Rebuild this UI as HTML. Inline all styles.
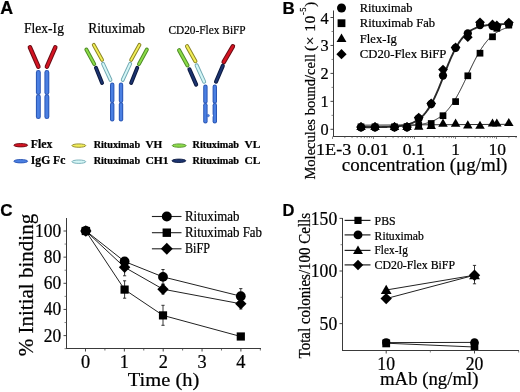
<!DOCTYPE html>
<html><head><meta charset="utf-8"><style>
html,body{margin:0;padding:0;background:#fff;}
body{width:520px;height:392px;overflow:hidden;}
svg{display:block;filter:blur(0.35px);}
text{stroke:#000;stroke-width:0.22px;}
</style></head><body>
<svg width="520" height="392" viewBox="0 0 520 392">
<rect width="520" height="392" fill="#fff"/>
<text x="0.30" y="13.80" font-size="17.8" font-family="'Liberation Sans', sans-serif" font-weight="bold" >A</text>
<text x="24.10" y="33.10" font-size="14.4" font-family="'Liberation Serif', serif" textLength="39.8" lengthAdjust="spacingAndGlyphs" >Flex-Ig</text>
<text x="88.30" y="33.10" font-size="14.6" font-family="'Liberation Serif', serif" textLength="56.8" lengthAdjust="spacingAndGlyphs" >Rituximab</text>
<text x="168.40" y="33.50" font-size="12.2" font-family="'Liberation Serif', serif" textLength="77.3" lengthAdjust="spacingAndGlyphs" >CD20-Flex BiFP</text>
<line x1="29.90" y1="47.26" x2="38.40" y2="66.74" stroke="#6a0c14" stroke-width="4.5" stroke-linecap="round"/>
<line x1="29.90" y1="47.26" x2="38.40" y2="66.74" stroke="#d41422" stroke-width="2.5" stroke-linecap="round"/>
<line x1="55.31" y1="47.27" x2="46.89" y2="66.73" stroke="#6a0c14" stroke-width="4.5" stroke-linecap="round"/>
<line x1="55.31" y1="47.27" x2="46.89" y2="66.73" stroke="#d41422" stroke-width="2.5" stroke-linecap="round"/>
<line x1="38.35" y1="72.55" x2="38.35" y2="92.45" stroke="#2a56b4" stroke-width="4.9" stroke-linecap="round"/>
<line x1="38.35" y1="72.55" x2="38.35" y2="92.45" stroke="#4a7fe2" stroke-width="2.9000000000000004" stroke-linecap="round"/>
<line x1="38.35" y1="96.75" x2="38.35" y2="116.65" stroke="#2a56b4" stroke-width="4.9" stroke-linecap="round"/>
<line x1="38.35" y1="96.75" x2="38.35" y2="116.65" stroke="#4a7fe2" stroke-width="2.9000000000000004" stroke-linecap="round"/>
<line x1="46.85" y1="72.55" x2="46.85" y2="92.45" stroke="#2a56b4" stroke-width="4.9" stroke-linecap="round"/>
<line x1="46.85" y1="72.55" x2="46.85" y2="92.45" stroke="#4a7fe2" stroke-width="2.9000000000000004" stroke-linecap="round"/>
<line x1="46.85" y1="96.75" x2="46.85" y2="116.65" stroke="#2a56b4" stroke-width="4.9" stroke-linecap="round"/>
<line x1="46.85" y1="96.75" x2="46.85" y2="116.65" stroke="#4a7fe2" stroke-width="2.9000000000000004" stroke-linecap="round"/>
<line x1="86.33" y1="49.51" x2="94.27" y2="64.09" stroke="#4e8c26" stroke-width="3.9" stroke-linecap="round"/>
<line x1="86.33" y1="49.51" x2="94.27" y2="64.09" stroke="#8cdc48" stroke-width="1.9" stroke-linecap="round"/>
<line x1="146.87" y1="49.51" x2="138.93" y2="64.09" stroke="#4e8c26" stroke-width="3.9" stroke-linecap="round"/>
<line x1="146.87" y1="49.51" x2="138.93" y2="64.09" stroke="#8cdc48" stroke-width="1.9" stroke-linecap="round"/>
<line x1="93.75" y1="44.91" x2="102.05" y2="59.89" stroke="#8c8624" stroke-width="3.9" stroke-linecap="round"/>
<line x1="93.75" y1="44.91" x2="102.05" y2="59.89" stroke="#f2ee58" stroke-width="1.9" stroke-linecap="round"/>
<line x1="139.45" y1="44.91" x2="131.15" y2="59.89" stroke="#8c8624" stroke-width="3.9" stroke-linecap="round"/>
<line x1="139.45" y1="44.91" x2="131.15" y2="59.89" stroke="#f2ee58" stroke-width="1.9" stroke-linecap="round"/>
<line x1="95.93" y1="67.81" x2="102.07" y2="82.89" stroke="#0c1a40" stroke-width="3.9" stroke-linecap="round"/>
<line x1="95.93" y1="67.81" x2="102.07" y2="82.89" stroke="#1c3470" stroke-width="1.9" stroke-linecap="round"/>
<line x1="137.27" y1="67.81" x2="131.13" y2="82.89" stroke="#0c1a40" stroke-width="3.9" stroke-linecap="round"/>
<line x1="137.27" y1="67.81" x2="131.13" y2="82.89" stroke="#1c3470" stroke-width="1.9" stroke-linecap="round"/>
<line x1="103.02" y1="63.77" x2="110.48" y2="79.93" stroke="#72aab4" stroke-width="3.9" stroke-linecap="round"/>
<line x1="103.02" y1="63.77" x2="110.48" y2="79.93" stroke="#d4f6f6" stroke-width="1.9" stroke-linecap="round"/>
<line x1="130.18" y1="63.77" x2="122.72" y2="79.93" stroke="#72aab4" stroke-width="3.9" stroke-linecap="round"/>
<line x1="130.18" y1="63.77" x2="122.72" y2="79.93" stroke="#d4f6f6" stroke-width="1.9" stroke-linecap="round"/>
<line x1="112.20" y1="84.70" x2="112.20" y2="100.70" stroke="#2a56b4" stroke-width="4.4" stroke-linecap="round"/>
<line x1="112.20" y1="84.70" x2="112.20" y2="100.70" stroke="#4a7fe2" stroke-width="2.4000000000000004" stroke-linecap="round"/>
<line x1="112.20" y1="104.50" x2="112.20" y2="119.20" stroke="#2a56b4" stroke-width="4.4" stroke-linecap="round"/>
<line x1="112.20" y1="104.50" x2="112.20" y2="119.20" stroke="#4a7fe2" stroke-width="2.4000000000000004" stroke-linecap="round"/>
<line x1="121.00" y1="84.70" x2="121.00" y2="100.70" stroke="#2a56b4" stroke-width="4.4" stroke-linecap="round"/>
<line x1="121.00" y1="84.70" x2="121.00" y2="100.70" stroke="#4a7fe2" stroke-width="2.4000000000000004" stroke-linecap="round"/>
<line x1="121.00" y1="104.50" x2="121.00" y2="119.20" stroke="#2a56b4" stroke-width="4.4" stroke-linecap="round"/>
<line x1="121.00" y1="104.50" x2="121.00" y2="119.20" stroke="#4a7fe2" stroke-width="2.4000000000000004" stroke-linecap="round"/>
<line x1="179.09" y1="50.19" x2="187.51" y2="65.41" stroke="#4e8c26" stroke-width="4.1" stroke-linecap="round"/>
<line x1="179.09" y1="50.19" x2="187.51" y2="65.41" stroke="#8cdc48" stroke-width="2.0999999999999996" stroke-linecap="round"/>
<line x1="187.00" y1="46.19" x2="195.40" y2="61.21" stroke="#8c8624" stroke-width="4.1" stroke-linecap="round"/>
<line x1="187.00" y1="46.19" x2="195.40" y2="61.21" stroke="#f2ee58" stroke-width="2.0999999999999996" stroke-linecap="round"/>
<line x1="189.43" y1="69.28" x2="196.17" y2="84.62" stroke="#0c1a40" stroke-width="4.1" stroke-linecap="round"/>
<line x1="189.43" y1="69.28" x2="196.17" y2="84.62" stroke="#1c3470" stroke-width="2.0999999999999996" stroke-linecap="round"/>
<line x1="196.66" y1="65.46" x2="204.14" y2="81.74" stroke="#72aab4" stroke-width="4.1" stroke-linecap="round"/>
<line x1="196.66" y1="65.46" x2="204.14" y2="81.74" stroke="#d4f6f6" stroke-width="2.0999999999999996" stroke-linecap="round"/>
<line x1="232.85" y1="46.29" x2="223.75" y2="62.01" stroke="#6a0c14" stroke-width="4.6" stroke-linecap="round"/>
<line x1="232.85" y1="46.29" x2="223.75" y2="62.01" stroke="#d41422" stroke-width="2.5999999999999996" stroke-linecap="round"/>
<line x1="222.79" y1="65.88" x2="216.01" y2="81.72" stroke="#0c1a40" stroke-width="4.1" stroke-linecap="round"/>
<line x1="222.79" y1="65.88" x2="216.01" y2="81.72" stroke="#1c3470" stroke-width="2.0999999999999996" stroke-linecap="round"/>
<line x1="205.40" y1="86.80" x2="205.40" y2="101.40" stroke="#2a56b4" stroke-width="4.4" stroke-linecap="round"/>
<line x1="205.40" y1="86.80" x2="205.40" y2="101.40" stroke="#4a7fe2" stroke-width="2.4000000000000004" stroke-linecap="round"/>
<line x1="205.40" y1="105.20" x2="205.40" y2="121.30" stroke="#2a56b4" stroke-width="4.4" stroke-linecap="round"/>
<line x1="205.40" y1="105.20" x2="205.40" y2="121.30" stroke="#4a7fe2" stroke-width="2.4000000000000004" stroke-linecap="round"/>
<line x1="214.80" y1="86.80" x2="214.80" y2="101.40" stroke="#2a56b4" stroke-width="4.4" stroke-linecap="round"/>
<line x1="214.80" y1="86.80" x2="214.80" y2="101.40" stroke="#4a7fe2" stroke-width="2.4000000000000004" stroke-linecap="round"/>
<line x1="214.80" y1="105.20" x2="214.80" y2="121.30" stroke="#2a56b4" stroke-width="4.4" stroke-linecap="round"/>
<line x1="214.80" y1="105.20" x2="214.80" y2="121.30" stroke="#4a7fe2" stroke-width="2.4000000000000004" stroke-linecap="round"/>
<circle cx="208.2" cy="115.6" r="1.2" fill="#4a7fe2" stroke="#2a56b4" stroke-width="0.5"/>
<circle cx="212.0" cy="115.6" r="1.1" fill="#fff"/>
<ellipse cx="20.75" cy="145.2" rx="6.9" ry="1.7" fill="#d41422" stroke="#6a0c14" stroke-width="0.9"/>
<ellipse cx="20.75" cy="161.2" rx="6.9" ry="1.7" fill="#4a7fe2" stroke="#2a56b4" stroke-width="0.9"/>
<ellipse cx="78.85" cy="145.6" rx="6.9" ry="1.7" fill="#f2ee58" stroke="#8c8624" stroke-width="0.9"/>
<ellipse cx="78.85" cy="161.7" rx="6.9" ry="1.7" fill="#d4f6f6" stroke="#72aab4" stroke-width="0.9"/>
<ellipse cx="179.2" cy="145.6" rx="6.9" ry="1.7" fill="#8cdc48" stroke="#4e8c26" stroke-width="0.9"/>
<ellipse cx="178.9" cy="160.8" rx="6.9" ry="1.7" fill="#1c3470" stroke="#0c1a40" stroke-width="0.9"/>
<text x="30.80" y="148.30" font-size="11.6" font-family="'Liberation Serif', serif" font-weight="bold" textLength="21.6" lengthAdjust="spacingAndGlyphs" >Flex</text>
<text x="30.80" y="164.40" font-size="11.6" font-family="'Liberation Serif', serif" font-weight="bold" textLength="34.6" lengthAdjust="spacingAndGlyphs" >IgG Fc</text>
<text x="93.70" y="148.10" font-size="9.6" font-family="'Liberation Serif', serif" font-weight="bold" textLength="46.4" lengthAdjust="spacingAndGlyphs" >Rituximab</text>
<text x="93.70" y="163.60" font-size="9.6" font-family="'Liberation Serif', serif" font-weight="bold" textLength="46.4" lengthAdjust="spacingAndGlyphs" >Rituximab</text>
<text x="192.60" y="148.10" font-size="9.6" font-family="'Liberation Serif', serif" font-weight="bold" textLength="46.4" lengthAdjust="spacingAndGlyphs" >Rituximab</text>
<text x="192.60" y="163.60" font-size="9.6" font-family="'Liberation Serif', serif" font-weight="bold" textLength="46.4" lengthAdjust="spacingAndGlyphs" >Rituximab</text>
<text x="145.40" y="148.10" font-size="11.2" font-family="'Liberation Serif', serif" font-weight="bold" textLength="16.8" lengthAdjust="spacingAndGlyphs" >VH</text>
<text x="145.40" y="163.60" font-size="11.2" font-family="'Liberation Serif', serif" font-weight="bold" textLength="23.2" lengthAdjust="spacingAndGlyphs" >CH1</text>
<text x="244.50" y="148.10" font-size="11.2" font-family="'Liberation Serif', serif" font-weight="bold" textLength="15.8" lengthAdjust="spacingAndGlyphs" >VL</text>
<text x="244.50" y="163.60" font-size="11.2" font-family="'Liberation Serif', serif" font-weight="bold" textLength="15.8" lengthAdjust="spacingAndGlyphs" >CL</text>
<text x="282.60" y="13.50" font-size="17" font-family="'Liberation Sans', sans-serif" font-weight="bold" >B</text>
<line x1="333.50" y1="10.50" x2="333.50" y2="137.00" stroke="#3a3a3a" stroke-width="1.0" />
<line x1="333.00" y1="136.50" x2="517.00" y2="136.50" stroke="#3a3a3a" stroke-width="1.0" />
<line x1="330.50" y1="129.30" x2="333.50" y2="129.30" stroke="#333" stroke-width="0.9" />
<text x="328.60" y="135.30" font-size="16.3" font-family="'Liberation Serif', serif" text-anchor="end" >0</text>
<line x1="330.50" y1="101.35" x2="333.50" y2="101.35" stroke="#333" stroke-width="0.9" />
<text x="328.60" y="107.35" font-size="16.3" font-family="'Liberation Serif', serif" text-anchor="end" >1</text>
<line x1="330.50" y1="73.40" x2="333.50" y2="73.40" stroke="#333" stroke-width="0.9" />
<text x="328.60" y="79.40" font-size="16.3" font-family="'Liberation Serif', serif" text-anchor="end" >2</text>
<line x1="330.50" y1="45.45" x2="333.50" y2="45.45" stroke="#333" stroke-width="0.9" />
<text x="328.60" y="51.45" font-size="16.3" font-family="'Liberation Serif', serif" text-anchor="end" >3</text>
<line x1="330.50" y1="17.50" x2="333.50" y2="17.50" stroke="#333" stroke-width="0.9" />
<text x="328.60" y="23.50" font-size="16.3" font-family="'Liberation Serif', serif" text-anchor="end" >4</text>
<line x1="331.50" y1="115.33" x2="333.50" y2="115.33" stroke="#555" stroke-width="0.7" />
<line x1="331.50" y1="87.38" x2="333.50" y2="87.38" stroke="#555" stroke-width="0.7" />
<line x1="331.50" y1="59.43" x2="333.50" y2="59.43" stroke="#555" stroke-width="0.7" />
<line x1="331.50" y1="31.48" x2="333.50" y2="31.48" stroke="#555" stroke-width="0.7" />
<line x1="332.50" y1="136.50" x2="332.50" y2="139.00" stroke="#555" stroke-width="0.7" />
<line x1="344.84" y1="136.50" x2="344.84" y2="138.10" stroke="#555" stroke-width="0.7" />
<line x1="352.06" y1="136.50" x2="352.06" y2="138.10" stroke="#555" stroke-width="0.7" />
<line x1="357.18" y1="136.50" x2="357.18" y2="138.10" stroke="#555" stroke-width="0.7" />
<line x1="361.16" y1="136.50" x2="361.16" y2="138.10" stroke="#555" stroke-width="0.7" />
<line x1="364.40" y1="136.50" x2="364.40" y2="138.10" stroke="#555" stroke-width="0.7" />
<line x1="367.15" y1="136.50" x2="367.15" y2="138.10" stroke="#555" stroke-width="0.7" />
<line x1="369.53" y1="136.50" x2="369.53" y2="138.10" stroke="#555" stroke-width="0.7" />
<line x1="371.62" y1="136.50" x2="371.62" y2="138.10" stroke="#555" stroke-width="0.7" />
<line x1="373.50" y1="136.50" x2="373.50" y2="139.00" stroke="#555" stroke-width="0.7" />
<line x1="385.84" y1="136.50" x2="385.84" y2="138.10" stroke="#555" stroke-width="0.7" />
<line x1="393.06" y1="136.50" x2="393.06" y2="138.10" stroke="#555" stroke-width="0.7" />
<line x1="398.18" y1="136.50" x2="398.18" y2="138.10" stroke="#555" stroke-width="0.7" />
<line x1="402.16" y1="136.50" x2="402.16" y2="138.10" stroke="#555" stroke-width="0.7" />
<line x1="405.40" y1="136.50" x2="405.40" y2="138.10" stroke="#555" stroke-width="0.7" />
<line x1="408.15" y1="136.50" x2="408.15" y2="138.10" stroke="#555" stroke-width="0.7" />
<line x1="410.53" y1="136.50" x2="410.53" y2="138.10" stroke="#555" stroke-width="0.7" />
<line x1="412.62" y1="136.50" x2="412.62" y2="138.10" stroke="#555" stroke-width="0.7" />
<line x1="414.50" y1="136.50" x2="414.50" y2="139.00" stroke="#555" stroke-width="0.7" />
<line x1="426.84" y1="136.50" x2="426.84" y2="138.10" stroke="#555" stroke-width="0.7" />
<line x1="434.06" y1="136.50" x2="434.06" y2="138.10" stroke="#555" stroke-width="0.7" />
<line x1="439.18" y1="136.50" x2="439.18" y2="138.10" stroke="#555" stroke-width="0.7" />
<line x1="443.16" y1="136.50" x2="443.16" y2="138.10" stroke="#555" stroke-width="0.7" />
<line x1="446.40" y1="136.50" x2="446.40" y2="138.10" stroke="#555" stroke-width="0.7" />
<line x1="449.15" y1="136.50" x2="449.15" y2="138.10" stroke="#555" stroke-width="0.7" />
<line x1="451.53" y1="136.50" x2="451.53" y2="138.10" stroke="#555" stroke-width="0.7" />
<line x1="453.62" y1="136.50" x2="453.62" y2="138.10" stroke="#555" stroke-width="0.7" />
<line x1="455.50" y1="136.50" x2="455.50" y2="139.00" stroke="#555" stroke-width="0.7" />
<line x1="467.84" y1="136.50" x2="467.84" y2="138.10" stroke="#555" stroke-width="0.7" />
<line x1="475.06" y1="136.50" x2="475.06" y2="138.10" stroke="#555" stroke-width="0.7" />
<line x1="480.18" y1="136.50" x2="480.18" y2="138.10" stroke="#555" stroke-width="0.7" />
<line x1="484.16" y1="136.50" x2="484.16" y2="138.10" stroke="#555" stroke-width="0.7" />
<line x1="487.40" y1="136.50" x2="487.40" y2="138.10" stroke="#555" stroke-width="0.7" />
<line x1="490.15" y1="136.50" x2="490.15" y2="138.10" stroke="#555" stroke-width="0.7" />
<line x1="492.53" y1="136.50" x2="492.53" y2="138.10" stroke="#555" stroke-width="0.7" />
<line x1="494.62" y1="136.50" x2="494.62" y2="138.10" stroke="#555" stroke-width="0.7" />
<line x1="496.50" y1="136.50" x2="496.50" y2="139.00" stroke="#555" stroke-width="0.7" />
<line x1="508.84" y1="136.50" x2="508.84" y2="138.10" stroke="#555" stroke-width="0.7" />
<line x1="516.06" y1="136.50" x2="516.06" y2="138.10" stroke="#555" stroke-width="0.7" />
<text x="333.70" y="155.20" font-size="17.5" font-family="'Liberation Serif', serif" text-anchor="middle" textLength="35.3" lengthAdjust="spacingAndGlyphs" >1E-3</text>
<text x="373.10" y="155.20" font-size="17.5" font-family="'Liberation Serif', serif" text-anchor="middle" textLength="31.6" lengthAdjust="spacingAndGlyphs" >0.01</text>
<text x="413.75" y="155.20" font-size="17.5" font-family="'Liberation Serif', serif" text-anchor="middle" >0.1</text>
<text x="455.50" y="155.20" font-size="17.5" font-family="'Liberation Serif', serif" text-anchor="middle" >1</text>
<text x="497.20" y="155.20" font-size="17.5" font-family="'Liberation Serif', serif" text-anchor="middle" >10</text>
<text x="341.80" y="170.70" font-size="18.3" font-family="'Liberation Serif', serif" textLength="165.6" lengthAdjust="spacingAndGlyphs" >concentration (&#956;g/ml)</text>
<text x="0" y="0" font-size="15.5" font-family="'Liberation Serif', serif" transform="translate(315.2 179.6) rotate(-90)" textLength="125.7" lengthAdjust="spacingAndGlyphs">Molecules bound/cell</text>
<text x="0" y="0" font-size="15.5" font-family="'Liberation Serif', serif" transform="translate(315.2 51.0) rotate(-90)" textLength="49.3">(&#215; 10<tspan dy="-8.8" font-size="8.6">-5</tspan><tspan dy="8.8">)</tspan></text>
<polyline points="361.00,126.48 361.50,126.48 362.00,126.48 362.50,126.48 363.00,126.48 363.50,126.48 364.00,126.48 364.50,126.48 365.00,126.48 365.50,126.48 366.00,126.48 366.50,126.48 367.00,126.48 367.50,126.47 368.00,126.47 368.50,126.47 369.00,126.47 369.50,126.47 370.00,126.47 370.50,126.47 371.00,126.47 371.50,126.46 372.00,126.46 372.50,126.46 373.00,126.46 373.50,126.46 374.00,126.46 374.50,126.45 375.00,126.45 375.50,126.45 376.00,126.45 376.50,126.45 377.00,126.44 377.50,126.44 378.00,126.44 378.50,126.44 379.00,126.43 379.50,126.43 380.00,126.43 380.50,126.42 381.00,126.42 381.50,126.42 382.00,126.41 382.50,126.41 383.00,126.41 383.50,126.40 384.00,126.40 384.50,126.39 385.00,126.39 385.50,126.39 386.00,126.38 386.50,126.38 387.00,126.37 387.50,126.37 388.00,126.36 388.50,126.35 389.00,126.35 389.50,126.34 390.00,126.33 390.50,126.33 391.00,126.32 391.50,126.31 392.00,126.30 392.50,126.30 393.00,126.29 393.50,126.28 394.00,126.27 394.50,126.26 395.00,126.25 395.50,126.24 396.00,126.23 396.50,126.22 397.00,126.20 397.50,126.19 398.00,126.18 398.50,126.16 399.00,126.15 399.50,126.14 400.00,126.12 400.50,126.10 401.00,126.09 401.50,126.07 402.00,126.05 402.50,126.03 403.00,126.01 403.50,125.99 404.00,125.97 404.50,125.95 405.00,125.93 405.50,125.90 406.00,125.88 406.50,125.85 407.00,125.82 407.50,125.80 408.00,125.77 408.50,125.74 409.00,125.70 409.50,125.67 410.00,125.63 410.50,125.60 411.00,125.56 411.50,125.52 412.00,125.48 412.50,125.44 413.00,125.39 413.50,125.35 414.00,125.30 414.50,125.25 415.00,125.20 415.50,125.14 416.00,125.09 416.50,125.03 417.00,124.96 417.50,124.90 418.00,124.83 418.50,124.76 419.00,124.69 419.50,124.62 420.00,124.54 420.50,124.46 421.00,124.37 421.50,124.29 422.00,124.19 422.50,124.10 423.00,124.00 423.50,123.90 424.00,123.79 424.50,123.68 425.00,123.56 425.50,123.44 426.00,123.32 426.50,123.19 427.00,123.05 427.50,122.91 428.00,122.76 428.50,122.61 429.00,122.45 429.50,122.29 430.00,122.12 430.50,121.94 431.00,121.76 431.50,121.56 432.00,121.37 432.50,121.16 433.00,120.95 433.50,120.73 434.00,120.50 434.50,120.26 435.00,120.01 435.50,119.75 436.00,119.49 436.50,119.21 437.00,118.93 437.50,118.63 438.00,118.32 438.50,118.01 439.00,117.68 439.50,117.34 440.00,116.98 440.50,116.62 441.00,116.24 441.50,115.86 442.00,115.45 442.50,115.04 443.00,114.61 443.50,114.17 444.00,113.71 444.50,113.24 445.00,112.75 445.50,112.25 446.00,111.74 446.50,111.21 447.00,110.66 447.50,110.09 448.00,109.52 448.50,108.92 449.00,108.31 449.50,107.68 450.00,107.03 450.50,106.37 451.00,105.69 451.50,105.00 452.00,104.29 452.50,103.56 453.00,102.81 453.50,102.05 454.00,101.27 454.50,100.47 455.00,99.66 455.50,98.83 456.00,97.98 456.50,97.12 457.00,96.24 457.50,95.35 458.00,94.45 458.50,93.53 459.00,92.59 459.50,91.65 460.00,90.69 460.50,89.72 461.00,88.73 461.50,87.74 462.00,86.73 462.50,85.72 463.00,84.70 463.50,83.67 464.00,82.63 464.50,81.59 465.00,80.54 465.50,79.49 466.00,78.43 466.50,77.37 467.00,76.31 467.50,75.25 468.00,74.19 468.50,73.13 469.00,72.07 469.50,71.01 470.00,69.96 470.50,68.91 471.00,67.87 471.50,66.83 472.00,65.80 472.50,64.78 473.00,63.77 473.50,62.76 474.00,61.77 474.50,60.78 475.00,59.81 475.50,58.85 476.00,57.91 476.50,56.97 477.00,56.05 477.50,55.15 478.00,54.26 478.50,53.38 479.00,52.52 479.50,51.67 480.00,50.84 480.50,50.03 481.00,49.23 481.50,48.45 482.00,47.69 482.50,46.94 483.00,46.21 483.50,45.50 484.00,44.81 484.50,44.13 485.00,43.47 485.50,42.82 486.00,42.19 486.50,41.58 487.00,40.98 487.50,40.41 488.00,39.84 488.50,39.29 489.00,38.76 489.50,38.25 490.00,37.75 490.50,37.26 491.00,36.79 491.50,36.33 492.00,35.89 492.50,35.46 493.00,35.05 493.50,34.64 494.00,34.26 494.50,33.88 495.00,33.52 495.50,33.16 496.00,32.82 496.50,32.49 497.00,32.18 497.50,31.87 498.00,31.57 498.50,31.29 499.00,31.01 499.50,30.75 500.00,30.49 500.50,30.24 501.00,30.00 501.50,29.77 502.00,29.55 502.50,29.34 503.00,29.13 503.50,28.94 504.00,28.74 504.50,28.56 505.00,28.38 505.50,28.21 506.00,28.05 506.50,27.89 507.00,27.74 507.50,27.59 508.00,27.45 508.50,27.31 509.00,27.18" fill="none" stroke="#222" stroke-width="1.0" stroke-linejoin="round"/>
<polyline points="361.00,125.20 509.00,124.30" fill="none" stroke="#333" stroke-width="1.0" stroke-linejoin="round"/>
<polyline points="361.00,127.27 361.50,127.27 362.00,127.27 362.50,127.27 363.00,127.27 363.50,127.26 364.00,127.26 364.50,127.26 365.00,127.26 365.50,127.26 366.00,127.25 366.50,127.25 367.00,127.25 367.50,127.25 368.00,127.24 368.50,127.24 369.00,127.24 369.50,127.23 370.00,127.23 370.50,127.23 371.00,127.22 371.50,127.22 372.00,127.22 372.50,127.21 373.00,127.21 373.50,127.20 374.00,127.20 374.50,127.19 375.00,127.19 375.50,127.18 376.00,127.17 376.50,127.17 377.00,127.16 377.50,127.15 378.00,127.15 378.50,127.14 379.00,127.13 379.50,127.12 380.00,127.11 380.50,127.10 381.00,127.09 381.50,127.08 382.00,127.07 382.50,127.06 383.00,127.05 383.50,127.04 384.00,127.02 384.50,127.01 385.00,126.99 385.50,126.98 386.00,126.96 386.50,126.95 387.00,126.93 387.50,126.91 388.00,126.89 388.50,126.87 389.00,126.85 389.50,126.82 390.00,126.80 390.50,126.77 391.00,126.75 391.50,126.72 392.00,126.69 392.50,126.66 393.00,126.63 393.50,126.59 394.00,126.56 394.50,126.52 395.00,126.48 395.50,126.44 396.00,126.40 396.50,126.35 397.00,126.30 397.50,126.25 398.00,126.20 398.50,126.15 399.00,126.09 399.50,126.03 400.00,125.96 400.50,125.90 401.00,125.83 401.50,125.75 402.00,125.68 402.50,125.59 403.00,125.51 403.50,125.42 404.00,125.33 404.50,125.23 405.00,125.13 405.50,125.02 406.00,124.90 406.50,124.79 407.00,124.66 407.50,124.53 408.00,124.39 408.50,124.25 409.00,124.10 409.50,123.94 410.00,123.78 410.50,123.61 411.00,123.43 411.50,123.24 412.00,123.04 412.50,122.83 413.00,122.62 413.50,122.39 414.00,122.15 414.50,121.91 415.00,121.65 415.50,121.38 416.00,121.10 416.50,120.80 417.00,120.49 417.50,120.17 418.00,119.84 418.50,119.48 419.00,119.12 419.50,118.74 420.00,118.34 420.50,117.93 421.00,117.50 421.50,117.05 422.00,116.58 422.50,116.10 423.00,115.59 423.50,115.07 424.00,114.53 424.50,113.96 425.00,113.38 425.50,112.77 426.00,112.14 426.50,111.49 427.00,110.81 427.50,110.11 428.00,109.39 428.50,108.65 429.00,107.88 429.50,107.09 430.00,106.27 430.50,105.43 431.00,104.56 431.50,103.67 432.00,102.75 432.50,101.82 433.00,100.85 433.50,99.87 434.00,98.86 434.50,97.82 435.00,96.77 435.50,95.69 436.00,94.60 436.50,93.48 437.00,92.34 437.50,91.19 438.00,90.01 438.50,88.82 439.00,87.62 439.50,86.40 440.00,85.17 440.50,83.93 441.00,82.68 441.50,81.42 442.00,80.15 442.50,78.88 443.00,77.60 443.50,76.32 444.00,75.04 444.50,73.76 445.00,72.48 445.50,71.21 446.00,69.94 446.50,68.67 447.00,67.42 447.50,66.18 448.00,64.94 448.50,63.72 449.00,62.51 449.50,61.32 450.00,60.15 450.50,58.99 451.00,57.85 451.50,56.73 452.00,55.62 452.50,54.54 453.00,53.49 453.50,52.45 454.00,51.43 454.50,50.44 455.00,49.48 455.50,48.53 456.00,47.61 456.50,46.72 457.00,45.85 457.50,45.00 458.00,44.18 458.50,43.38 459.00,42.60 459.50,41.85 460.00,41.13 460.50,40.43 461.00,39.75 461.50,39.09 462.00,38.46 462.50,37.84 463.00,37.25 463.50,36.69 464.00,36.14 464.50,35.61 465.00,35.10 465.50,34.61 466.00,34.14 466.50,33.69 467.00,33.26 467.50,32.84 468.00,32.44 468.50,32.06 469.00,31.69 469.50,31.33 470.00,31.00 470.50,30.67 471.00,30.36 471.50,30.06 472.00,29.78 472.50,29.50 473.00,29.24 473.50,28.99 474.00,28.75 474.50,28.53 475.00,28.31 475.50,28.10 476.00,27.90 476.50,27.71 477.00,27.53 477.50,27.35 478.00,27.19 478.50,27.03 479.00,26.88 479.50,26.73 480.00,26.60 480.50,26.46 481.00,26.34 481.50,26.22 482.00,26.10 482.50,26.00 483.00,25.89 483.50,25.79 484.00,25.70 484.50,25.61 485.00,25.52 485.50,25.44 486.00,25.36 486.50,25.29 487.00,25.22 487.50,25.15 488.00,25.09 488.50,25.02 489.00,24.97 489.50,24.91 490.00,24.86 490.50,24.81 491.00,24.76 491.50,24.71 492.00,24.67 492.50,24.63 493.00,24.59 493.50,24.55 494.00,24.51 494.50,24.48 495.00,24.45 495.50,24.42 496.00,24.39 496.50,24.36 497.00,24.33 497.50,24.31 498.00,24.28 498.50,24.26 499.00,24.24 499.50,24.22 500.00,24.20 500.50,24.18 501.00,24.16 501.50,24.14 502.00,24.12 502.50,24.11 503.00,24.09 503.50,24.08 504.00,24.07 504.50,24.05 505.00,24.04 505.50,24.03 506.00,24.02 506.50,24.01 507.00,24.00 507.50,23.99 508.00,23.98 508.50,23.97 509.00,23.96" fill="none" stroke="#2a2a2a" stroke-width="1.9" stroke-linejoin="round"/>
<polygon points="361.00,121.88 365.75,130.02 356.25,130.02" fill="#000"/>
<polygon points="375.00,121.88 379.75,130.02 370.25,130.02" fill="#000"/>
<polygon points="394.50,121.88 399.25,130.02 389.75,130.02" fill="#000"/>
<polygon points="407.00,121.88 411.75,130.02 402.25,130.02" fill="#000"/>
<polygon points="418.70,121.68 423.45,129.82 413.95,129.82" fill="#000"/>
<polygon points="431.20,120.88 435.95,129.02 426.45,129.02" fill="#000"/>
<polygon points="443.00,118.58 447.75,126.72 438.25,126.72" fill="#000"/>
<polygon points="455.60,118.58 460.35,126.72 450.85,126.72" fill="#000"/>
<polygon points="467.80,120.28 472.55,128.42 463.05,128.42" fill="#000"/>
<polygon points="480.00,120.68 484.75,128.82 475.25,128.82" fill="#000"/>
<polygon points="492.50,118.38 497.25,126.52 487.75,126.52" fill="#000"/>
<polygon points="496.80,118.38 501.55,126.52 492.05,126.52" fill="#000"/>
<polygon points="508.80,117.98 513.55,126.12 504.05,126.12" fill="#000"/>
<rect x="357.65" y="123.45" width="6.71" height="6.71" fill="#000"/>
<rect x="371.65" y="123.45" width="6.71" height="6.71" fill="#000"/>
<rect x="391.15" y="123.45" width="6.71" height="6.71" fill="#000"/>
<rect x="403.65" y="123.15" width="6.71" height="6.71" fill="#000"/>
<rect x="415.35" y="122.05" width="6.71" height="6.71" fill="#000"/>
<rect x="427.85" y="120.15" width="6.71" height="6.71" fill="#000"/>
<rect x="439.65" y="112.35" width="6.71" height="6.71" fill="#000"/>
<rect x="452.25" y="98.25" width="6.71" height="6.71" fill="#000"/>
<rect x="464.45" y="72.45" width="6.71" height="6.71" fill="#000"/>
<rect x="476.65" y="49.85" width="6.71" height="6.71" fill="#000"/>
<rect x="489.15" y="33.45" width="6.71" height="6.71" fill="#000"/>
<rect x="493.45" y="24.95" width="6.71" height="6.71" fill="#000"/>
<rect x="505.45" y="21.75" width="6.71" height="6.71" fill="#000"/>
<circle cx="361.00" cy="127.30" r="4.13" fill="#000"/>
<circle cx="375.00" cy="127.30" r="4.13" fill="#000"/>
<circle cx="394.50" cy="127.30" r="4.13" fill="#000"/>
<circle cx="407.00" cy="127.30" r="4.13" fill="#000"/>
<circle cx="418.70" cy="118.50" r="4.13" fill="#000"/>
<circle cx="431.20" cy="104.00" r="4.13" fill="#000"/>
<circle cx="443.00" cy="75.60" r="4.13" fill="#000"/>
<circle cx="455.60" cy="47.80" r="4.13" fill="#000"/>
<circle cx="467.80" cy="33.30" r="4.13" fill="#000"/>
<circle cx="480.00" cy="25.00" r="4.13" fill="#000"/>
<circle cx="492.50" cy="26.10" r="4.13" fill="#000"/>
<circle cx="496.80" cy="26.80" r="4.13" fill="#000"/>
<circle cx="508.80" cy="24.00" r="4.13" fill="#000"/>
<polygon points="361.00,122.10 365.90,127.00 361.00,131.90 356.10,127.00" fill="#000"/>
<polygon points="375.00,122.10 379.90,127.00 375.00,131.90 370.10,127.00" fill="#000"/>
<polygon points="394.50,122.10 399.40,127.00 394.50,131.90 389.60,127.00" fill="#000"/>
<polygon points="407.00,122.10 411.90,127.00 407.00,131.90 402.10,127.00" fill="#000"/>
<polygon points="418.70,112.70 423.60,117.60 418.70,122.50 413.80,117.60" fill="#000"/>
<polygon points="431.20,98.60 436.10,103.50 431.20,108.40 426.30,103.50" fill="#000"/>
<polygon points="443.00,64.70 447.90,69.60 443.00,74.50 438.10,69.60" fill="#000"/>
<polygon points="455.60,42.50 460.50,47.40 455.60,52.30 450.70,47.40" fill="#000"/>
<polygon points="467.80,32.30 472.70,37.20 467.80,42.10 462.90,37.20" fill="#000"/>
<polygon points="480.00,17.40 484.90,22.30 480.00,27.20 475.10,22.30" fill="#000"/>
<polygon points="492.50,19.50 497.40,24.40 492.50,29.30 487.60,24.40" fill="#000"/>
<polygon points="496.80,20.60 501.70,25.50 496.80,30.40 491.90,25.50" fill="#000"/>
<polygon points="508.80,17.70 513.70,22.60 508.80,27.50 503.90,22.60" fill="#000"/>
<circle cx="341.50" cy="8.00" r="4.51" fill="#000"/>
<rect x="337.60" y="19.30" width="7.80" height="7.80" fill="#000"/>
<polygon points="341.50,33.57 346.47,42.08 336.53,42.08" fill="#000"/>
<polygon points="341.50,49.07 346.63,54.20 341.50,59.33 336.37,54.20" fill="#000"/>
<text x="359.80" y="11.70" font-size="12.6" font-family="'Liberation Serif', serif" textLength="52.6" lengthAdjust="spacingAndGlyphs" >Rituximab</text>
<text x="359.80" y="27.20" font-size="12.6" font-family="'Liberation Serif', serif" textLength="75.3" lengthAdjust="spacingAndGlyphs" >Rituximab Fab</text>
<text x="359.80" y="42.80" font-size="12.6" font-family="'Liberation Serif', serif" >Flex-Ig</text>
<text x="359.80" y="58.20" font-size="12.6" font-family="'Liberation Serif', serif" textLength="86.6" lengthAdjust="spacingAndGlyphs" >CD20-Flex BiFP</text>
<text x="0.20" y="216.40" font-size="17" font-family="'Liberation Sans', sans-serif" font-weight="bold" >C</text>
<line x1="66.50" y1="218.00" x2="66.50" y2="349.00" stroke="#3a3a3a" stroke-width="1.0" />
<line x1="66.00" y1="348.50" x2="261.00" y2="348.50" stroke="#3a3a3a" stroke-width="1.0" />
<line x1="63.50" y1="335.60" x2="66.50" y2="335.60" stroke="#333" stroke-width="0.9" />
<text x="0" y="0" font-size="19.0" font-family="'Liberation Serif', serif" text-anchor="end" transform="translate(61.20 341.50) scale(0.92 1)" >20</text>
<line x1="63.50" y1="309.45" x2="66.50" y2="309.45" stroke="#333" stroke-width="0.9" />
<text x="0" y="0" font-size="19.0" font-family="'Liberation Serif', serif" text-anchor="end" transform="translate(61.20 315.35) scale(0.92 1)" >40</text>
<line x1="63.50" y1="283.30" x2="66.50" y2="283.30" stroke="#333" stroke-width="0.9" />
<text x="0" y="0" font-size="19.0" font-family="'Liberation Serif', serif" text-anchor="end" transform="translate(61.20 289.20) scale(0.92 1)" >60</text>
<line x1="63.50" y1="257.15" x2="66.50" y2="257.15" stroke="#333" stroke-width="0.9" />
<text x="0" y="0" font-size="19.0" font-family="'Liberation Serif', serif" text-anchor="end" transform="translate(61.20 263.05) scale(0.92 1)" >80</text>
<line x1="63.50" y1="231.00" x2="66.50" y2="231.00" stroke="#333" stroke-width="0.9" />
<text x="0" y="0" font-size="19.0" font-family="'Liberation Serif', serif" text-anchor="end" transform="translate(61.20 236.90) scale(0.92 1)" >100</text>
<line x1="64.50" y1="348.68" x2="66.50" y2="348.68" stroke="#555" stroke-width="0.7" />
<line x1="64.50" y1="322.52" x2="66.50" y2="322.52" stroke="#555" stroke-width="0.7" />
<line x1="64.50" y1="296.38" x2="66.50" y2="296.38" stroke="#555" stroke-width="0.7" />
<line x1="64.50" y1="270.23" x2="66.50" y2="270.23" stroke="#555" stroke-width="0.7" />
<line x1="64.50" y1="244.07" x2="66.50" y2="244.07" stroke="#555" stroke-width="0.7" />
<line x1="85.50" y1="348.50" x2="85.50" y2="351.50" stroke="#333" stroke-width="0.9" />
<text x="85.50" y="368.00" font-size="18.3" font-family="'Liberation Serif', serif" text-anchor="middle" >0</text>
<line x1="124.35" y1="348.50" x2="124.35" y2="351.50" stroke="#333" stroke-width="0.9" />
<text x="124.35" y="368.00" font-size="18.3" font-family="'Liberation Serif', serif" text-anchor="middle" >1</text>
<line x1="163.20" y1="348.50" x2="163.20" y2="351.50" stroke="#333" stroke-width="0.9" />
<text x="163.20" y="368.00" font-size="18.3" font-family="'Liberation Serif', serif" text-anchor="middle" >2</text>
<line x1="202.05" y1="348.50" x2="202.05" y2="351.50" stroke="#333" stroke-width="0.9" />
<text x="202.05" y="368.00" font-size="18.3" font-family="'Liberation Serif', serif" text-anchor="middle" >3</text>
<line x1="240.90" y1="348.50" x2="240.90" y2="351.50" stroke="#333" stroke-width="0.9" />
<text x="240.90" y="368.00" font-size="18.3" font-family="'Liberation Serif', serif" text-anchor="middle" >4</text>
<line x1="104.92" y1="348.50" x2="104.92" y2="350.50" stroke="#444" stroke-width="0.8" />
<line x1="143.78" y1="348.50" x2="143.78" y2="350.50" stroke="#444" stroke-width="0.8" />
<line x1="182.62" y1="348.50" x2="182.62" y2="350.50" stroke="#444" stroke-width="0.8" />
<line x1="221.47" y1="348.50" x2="221.47" y2="350.50" stroke="#444" stroke-width="0.8" />
<line x1="260.33" y1="348.50" x2="260.33" y2="350.50" stroke="#444" stroke-width="0.8" />
<text x="127.80" y="385.70" font-size="19.3" font-family="'Liberation Serif', serif" textLength="71.5" lengthAdjust="spacingAndGlyphs" >Time (h)</text>
<text x="0" y="0" font-size="19.7" font-family="'Liberation Serif', serif" textLength="142.5" lengthAdjust="spacingAndGlyphs" transform="translate(32.60 356.30) rotate(-90) scale(1 1.1)" >% Initial binding</text>
<line x1="124.60" y1="257.70" x2="124.60" y2="265.50" stroke="#222" stroke-width="0.9" />
<line x1="123.00" y1="257.70" x2="126.20" y2="257.70" stroke="#222" stroke-width="0.9" />
<line x1="123.00" y1="265.50" x2="126.20" y2="265.50" stroke="#222" stroke-width="0.9" />
<line x1="124.60" y1="264.00" x2="124.60" y2="275.80" stroke="#222" stroke-width="0.9" />
<line x1="123.00" y1="264.00" x2="126.20" y2="264.00" stroke="#222" stroke-width="0.9" />
<line x1="123.00" y1="275.80" x2="126.20" y2="275.80" stroke="#222" stroke-width="0.9" />
<line x1="124.60" y1="280.80" x2="124.60" y2="298.20" stroke="#222" stroke-width="0.9" />
<line x1="123.00" y1="280.80" x2="126.20" y2="280.80" stroke="#222" stroke-width="0.9" />
<line x1="123.00" y1="298.20" x2="126.20" y2="298.20" stroke="#222" stroke-width="0.9" />
<line x1="163.00" y1="269.50" x2="163.00" y2="284.50" stroke="#222" stroke-width="0.9" />
<line x1="161.40" y1="269.50" x2="164.60" y2="269.50" stroke="#222" stroke-width="0.9" />
<line x1="161.40" y1="284.50" x2="164.60" y2="284.50" stroke="#222" stroke-width="0.9" />
<line x1="163.00" y1="305.30" x2="163.00" y2="325.30" stroke="#222" stroke-width="0.9" />
<line x1="161.40" y1="305.30" x2="164.60" y2="305.30" stroke="#222" stroke-width="0.9" />
<line x1="161.40" y1="325.30" x2="164.60" y2="325.30" stroke="#222" stroke-width="0.9" />
<line x1="163.00" y1="284.00" x2="163.00" y2="294.00" stroke="#222" stroke-width="0.9" />
<line x1="161.40" y1="284.00" x2="164.60" y2="284.00" stroke="#222" stroke-width="0.9" />
<line x1="161.40" y1="294.00" x2="164.60" y2="294.00" stroke="#222" stroke-width="0.9" />
<line x1="240.80" y1="288.60" x2="240.80" y2="303.80" stroke="#222" stroke-width="0.9" />
<line x1="239.20" y1="288.60" x2="242.40" y2="288.60" stroke="#222" stroke-width="0.9" />
<line x1="239.20" y1="303.80" x2="242.40" y2="303.80" stroke="#222" stroke-width="0.9" />
<line x1="240.80" y1="298.00" x2="240.80" y2="309.00" stroke="#222" stroke-width="0.9" />
<line x1="239.20" y1="298.00" x2="242.40" y2="298.00" stroke="#222" stroke-width="0.9" />
<line x1="239.20" y1="309.00" x2="242.40" y2="309.00" stroke="#222" stroke-width="0.9" />
<line x1="240.80" y1="334.00" x2="240.80" y2="339.00" stroke="#222" stroke-width="0.9" />
<line x1="239.20" y1="334.00" x2="242.40" y2="334.00" stroke="#222" stroke-width="0.9" />
<line x1="239.20" y1="339.00" x2="242.40" y2="339.00" stroke="#222" stroke-width="0.9" />
<polyline points="85.80,230.80 124.60,261.50 163.00,276.90 240.80,296.20" fill="none" stroke="#222" stroke-width="1.0" stroke-linejoin="round"/>
<polyline points="85.80,231.00 124.60,267.30 163.00,289.20 240.80,303.80" fill="none" stroke="#222" stroke-width="1.0" stroke-linejoin="round"/>
<polyline points="85.80,231.00 124.60,289.60 163.00,315.40 240.80,336.50" fill="none" stroke="#222" stroke-width="1.0" stroke-linejoin="round"/>
<rect x="81.70" y="226.91" width="8.19" height="8.19" fill="#000"/>
<rect x="120.50" y="285.50" width="8.19" height="8.19" fill="#000"/>
<rect x="158.91" y="311.30" width="8.19" height="8.19" fill="#000"/>
<rect x="236.71" y="332.40" width="8.19" height="8.19" fill="#000"/>
<circle cx="85.80" cy="230.80" r="4.90" fill="#000"/>
<circle cx="124.60" cy="261.50" r="4.90" fill="#000"/>
<circle cx="163.00" cy="276.90" r="4.90" fill="#000"/>
<circle cx="240.80" cy="296.20" r="4.90" fill="#000"/>
<polygon points="85.80,225.30 91.50,231.00 85.80,236.70 80.10,231.00" fill="#000"/>
<polygon points="124.60,261.60 130.30,267.30 124.60,273.00 118.90,267.30" fill="#000"/>
<polygon points="163.00,283.50 168.70,289.20 163.00,294.90 157.30,289.20" fill="#000"/>
<polygon points="240.80,298.10 246.50,303.80 240.80,309.50 235.10,303.80" fill="#000"/>
<line x1="151.90" y1="216.50" x2="181.50" y2="216.50" stroke="#222" stroke-width="1.1" />
<circle cx="166.80" cy="216.50" r="4.99" fill="#000"/>
<line x1="151.90" y1="232.70" x2="181.50" y2="232.70" stroke="#222" stroke-width="1.1" />
<rect x="162.59" y="228.49" width="8.42" height="8.42" fill="#000"/>
<line x1="151.90" y1="248.80" x2="181.50" y2="248.80" stroke="#222" stroke-width="1.1" />
<polygon points="166.80,242.87 172.73,248.80 166.80,254.73 160.87,248.80" fill="#000"/>
<text x="185.00" y="220.80" font-size="13.7" font-family="'Liberation Serif', serif" textLength="54.4" lengthAdjust="spacingAndGlyphs" >Rituximab</text>
<text x="185.00" y="237.00" font-size="13.7" font-family="'Liberation Serif', serif" textLength="77.0" lengthAdjust="spacingAndGlyphs" >Rituximab Fab</text>
<text x="185.00" y="253.10" font-size="13.7" font-family="'Liberation Serif', serif" textLength="25.0" lengthAdjust="spacingAndGlyphs" >BiFP</text>
<text x="282.60" y="215.60" font-size="16.5" font-family="'Liberation Sans', sans-serif" font-weight="bold" >D</text>
<line x1="342.50" y1="218.00" x2="342.50" y2="351.00" stroke="#3a3a3a" stroke-width="1.0" />
<line x1="342.00" y1="350.50" x2="519.00" y2="350.50" stroke="#3a3a3a" stroke-width="1.0" />
<line x1="339.50" y1="323.62" x2="342.50" y2="323.62" stroke="#333" stroke-width="0.9" />
<text x="0" y="0" font-size="19.8" font-family="'Liberation Serif', serif" text-anchor="end" transform="translate(337.20 329.93) scale(0.89 1)" >50</text>
<line x1="339.50" y1="271.00" x2="342.50" y2="271.00" stroke="#333" stroke-width="0.9" />
<text x="0" y="0" font-size="19.8" font-family="'Liberation Serif', serif" text-anchor="end" transform="translate(337.20 277.30) scale(0.89 1)" >100</text>
<line x1="339.50" y1="218.38" x2="342.50" y2="218.38" stroke="#333" stroke-width="0.9" />
<text x="0" y="0" font-size="19.8" font-family="'Liberation Serif', serif" text-anchor="end" transform="translate(337.20 224.68) scale(0.89 1)" >150</text>
<line x1="340.50" y1="297.31" x2="342.50" y2="297.31" stroke="#555" stroke-width="0.7" />
<line x1="340.50" y1="244.69" x2="342.50" y2="244.69" stroke="#555" stroke-width="0.7" />
<line x1="386.20" y1="350.50" x2="386.20" y2="353.50" stroke="#333" stroke-width="0.9" />
<text x="0" y="0" font-size="18.6" font-family="'Liberation Serif', serif" text-anchor="middle" transform="translate(386.20 370.40) scale(0.95 1)" >10</text>
<line x1="474.50" y1="350.50" x2="474.50" y2="353.50" stroke="#333" stroke-width="0.9" />
<text x="0" y="0" font-size="18.6" font-family="'Liberation Serif', serif" text-anchor="middle" transform="translate(474.50 370.40) scale(0.95 1)" >20</text>
<line x1="430.35" y1="350.50" x2="430.35" y2="352.50" stroke="#555" stroke-width="0.7" />
<line x1="518.65" y1="350.50" x2="518.65" y2="352.50" stroke="#555" stroke-width="0.7" />
<text x="380.00" y="384.60" font-size="18.5" font-family="'Liberation Serif', serif" textLength="98.5" lengthAdjust="spacingAndGlyphs" >mAb (ng/ml)</text>
<text x="0" y="0" font-size="16.5" font-family="'Liberation Serif', serif" textLength="145.5" lengthAdjust="spacingAndGlyphs" transform="translate(310.00 358.40) rotate(-90) scale(1 1)" >Total colonies/100 Cells</text>
<line x1="474.50" y1="265.40" x2="474.50" y2="283.80" stroke="#222" stroke-width="0.9" />
<line x1="472.90" y1="265.40" x2="476.10" y2="265.40" stroke="#222" stroke-width="0.9" />
<line x1="472.90" y1="283.80" x2="476.10" y2="283.80" stroke="#222" stroke-width="0.9" />
<polyline points="386.20,290.00 474.50,275.20" fill="none" stroke="#222" stroke-width="1.0" stroke-linejoin="round"/>
<polyline points="386.20,298.60 474.50,275.20" fill="none" stroke="#222" stroke-width="1.0" stroke-linejoin="round"/>
<polyline points="386.20,342.60 474.50,342.40" fill="none" stroke="#222" stroke-width="1.0" stroke-linejoin="round"/>
<polyline points="386.20,343.20 474.50,347.00" fill="none" stroke="#222" stroke-width="1.0" stroke-linejoin="round"/>
<circle cx="386.20" cy="342.40" r="4.03" fill="#000"/>
<rect x="470.68" y="342.38" width="7.64" height="7.64" fill="#000"/>
<rect x="382.30" y="339.50" width="7.80" height="7.80" fill="#000"/>
<circle cx="474.50" cy="342.60" r="4.32" fill="#000"/>
<polygon points="386.20,284.75 391.60,294.00 380.80,294.00" fill="#000"/>
<polygon points="474.50,269.95 479.90,279.20 469.10,279.20" fill="#000"/>
<polygon points="386.20,292.90 391.90,298.60 386.20,304.30 380.50,298.60" fill="#000"/>
<polygon points="474.50,269.50 480.20,275.20 474.50,280.90 468.80,275.20" fill="#000"/>
<line x1="344.60" y1="220.40" x2="370.50" y2="220.40" stroke="#222" stroke-width="1.2" />
<rect x="354.41" y="216.81" width="7.18" height="7.18" fill="#000"/>
<line x1="344.60" y1="234.90" x2="370.50" y2="234.90" stroke="#222" stroke-width="1.2" />
<circle cx="358.00" cy="234.90" r="4.42" fill="#000"/>
<line x1="344.60" y1="250.40" x2="370.50" y2="250.40" stroke="#222" stroke-width="1.2" />
<polygon points="358.00,245.57 362.97,254.08 353.03,254.08" fill="#000"/>
<line x1="344.60" y1="264.90" x2="370.50" y2="264.90" stroke="#222" stroke-width="1.2" />
<polygon points="358.00,259.66 363.24,264.90 358.00,270.14 352.76,264.90" fill="#000"/>
<text x="374.60" y="225.00" font-size="11.8" font-family="'Liberation Serif', serif" >PBS</text>
<text x="374.60" y="239.60" font-size="11.8" font-family="'Liberation Serif', serif" textLength="49.3" lengthAdjust="spacingAndGlyphs" >Rituximab</text>
<text x="374.60" y="254.40" font-size="11.8" font-family="'Liberation Serif', serif" textLength="33.2" lengthAdjust="spacingAndGlyphs" >Flex-Ig</text>
<text x="374.60" y="269.10" font-size="11.8" font-family="'Liberation Serif', serif" textLength="80.4" lengthAdjust="spacingAndGlyphs" >CD20-Flex BiFP</text>
</svg>
</body></html>
